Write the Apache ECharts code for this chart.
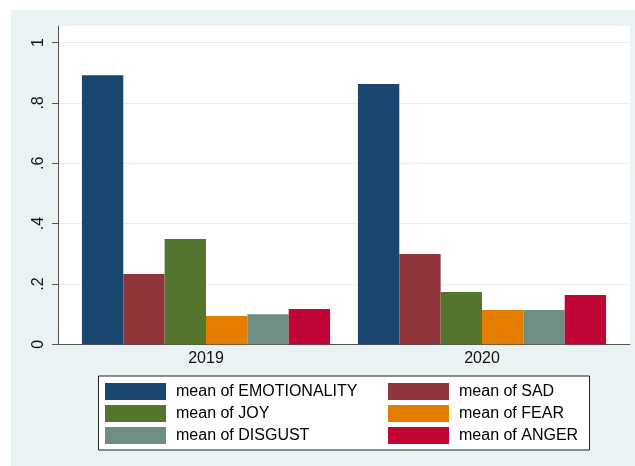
<!DOCTYPE html>
<html>
<head>
<meta charset="utf-8">
<script src="https://cdn.jsdelivr.net/npm/echarts@6/dist/echarts.min.js"></script>
<style>html,body{margin:0;padding:0;background:#fff}#c{width:635px;height:466px}</style>
</head>
<body>
<div id="c"></div>
<script>
var categories = ['2019', '2020'];
var seriesNames = ['mean of EMOTIONALITY', 'mean of SAD', 'mean of JOY', 'mean of FEAR', 'mean of DISGUST', 'mean of ANGER'];
var emotionality = [0.892, 0.863];
var sad = [0.233, 0.299];
var joy = [0.349, 0.173];
var fear = [0.094, 0.114];
var disgust = [0.100, 0.114];
var anger = [0.117, 0.163];
var yTickValues = [0, 0.2, 0.4, 0.6, 0.8, 1];
var yTickLabels = ['0', '.2', '.4', '.6', '.8', '1'];
var colors = ['#1a476f', '#90353b', '#55752f', '#e37e00', '#6e8e84', '#c10534'];
var allData = [emotionality, sad, joy, fear, disgust, anger];

var FONT = 'Liberation Sans, Arial, Helvetica, sans-serif';
var chart = echarts.init(document.getElementById('c'));
var series = seriesNames.map(function (n, i) {
  return {
    name: n, type: 'bar', xAxisIndex: 1, yAxisIndex: 1,
    data: allData[i], barGap: '0%', barCategoryGap: '10.1%',
    itemStyle: { color: colors[i] }, emphasis: { disabled: true }
  };
});
var legendBase = {
  orient: 'vertical', itemWidth: 61, itemHeight: 17, itemGap: 5, padding: 0,
  icon: 'rect', selectedMode: false,
  textStyle: { fontFamily: FONT, fontSize: 16, color: '#000', padding: [0, 0, 0, 5] }
};
chart.setOption({
  animation: false,
  backgroundColor: '#fff',
  graphic: [
    { type: 'rect', z: -10, shape: { x: 11, y: 10, width: 624, height: 456 }, style: { fill: '#eaf2f3' } },
    { type: 'rect', z: -5, shape: { x: 98.5, y: 376, width: 491, height: 74 }, style: { fill: '#fff', stroke: '#222', lineWidth: 1 } }
  ],
  grid: [
    { left: 58, top: 26, width: 572, height: 318.3, show: true, backgroundColor: '#fff', borderWidth: 0 },
    { left: 68, top: 26, width: 552, height: 318.3 }
  ],
  xAxis: [
    { gridIndex: 0, type: 'category', data: [''], axisLine: { show: true, lineStyle: { color: '#555', width: 1 } },
      axisTick: { show: false }, axisLabel: { show: false }, splitLine: { show: false } },
    { gridIndex: 1, type: 'category', data: categories, axisLine: { show: false }, axisTick: { show: false },
      axisLabel: { fontFamily: FONT, fontSize: 16, color: '#111', margin: 6 } }
  ],
  yAxis: [
    { gridIndex: 0, type: 'value', min: 0, max: 1.055, interval: 0.2,
      axisLine: { show: true, lineStyle: { color: '#555', width: 1 } },
      axisTick: { show: true, length: 6, lineStyle: { color: '#555' }, customValues: yTickValues },
      axisLabel: { rotate: 90, margin: 11, fontFamily: FONT, fontSize: 16, color: '#111', customValues: yTickValues,
        formatter: function (v) { var k = yTickValues.findIndex(function (t) { return Math.abs(t - v) < 1e-6; }); return k >= 0 ? yTickLabels[k] : ''; } },
      splitLine: { show: true, lineStyle: { color: '#e6eef0', width: 1 } } },
    { gridIndex: 1, type: 'value', min: 0, max: 1.055, show: false, splitLine: { show: false } }
  ],
  legend: [
    Object.assign({}, legendBase, { left: 105, top: 383, data: [seriesNames[0], seriesNames[2], seriesNames[4]] }),
    Object.assign({}, legendBase, { left: 388, top: 383, data: [seriesNames[1], seriesNames[3], seriesNames[5]] })
  ],
  series: series
});
</script>
</body>
</html>
